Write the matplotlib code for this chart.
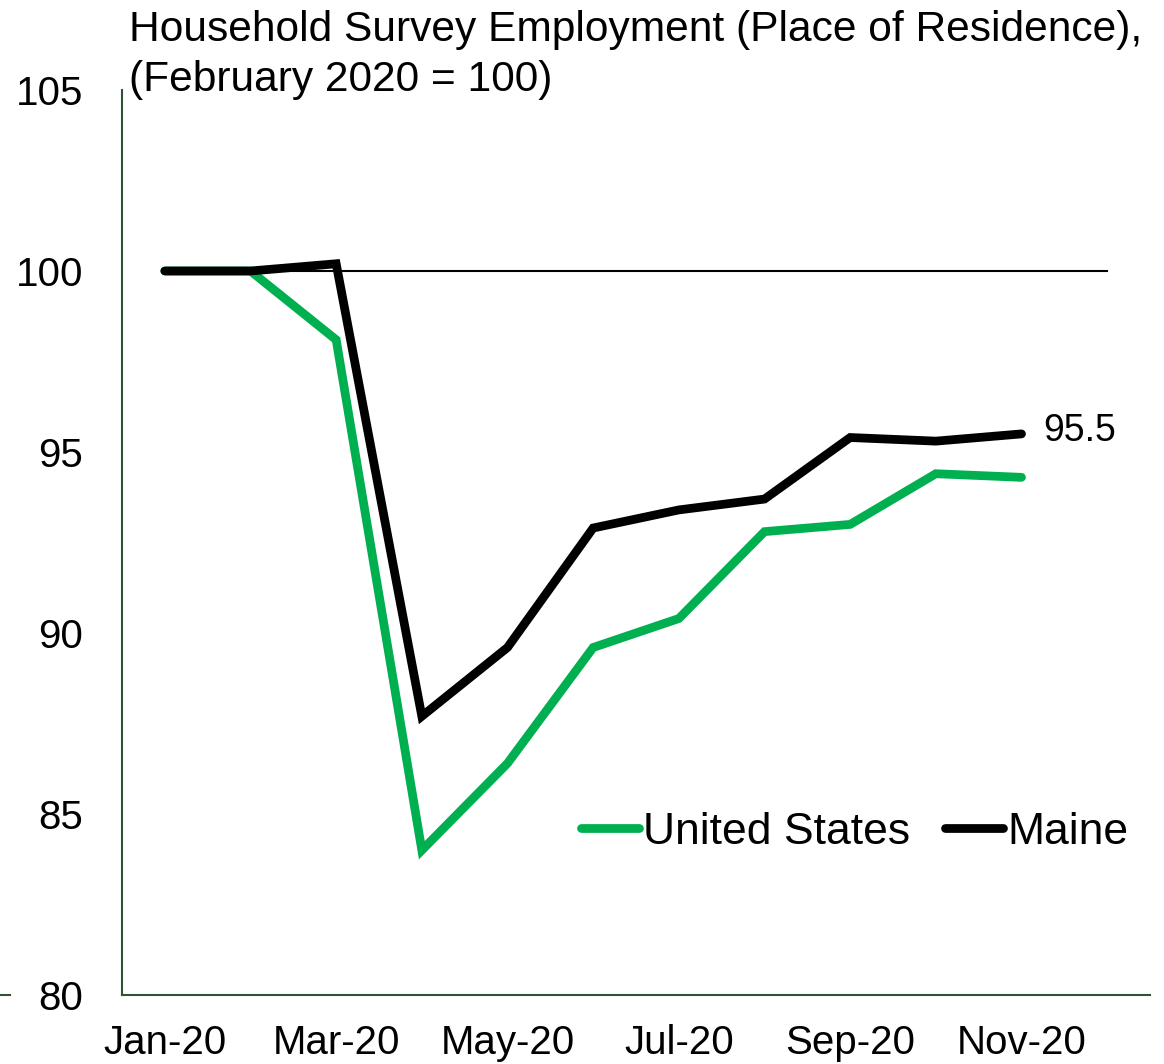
import matplotlib
matplotlib.use("Agg")
import matplotlib.pyplot as plt
from matplotlib.lines import Line2D

plt.rcParams['font.family'] = ['Liberation Sans', 'DejaVu Sans']

months = ["Jan-20", "Feb-20", "Mar-20", "Apr-20", "May-20", "Jun-20",
          "Jul-20", "Aug-20", "Sep-20", "Oct-20", "Nov-20", "Dec-20"]
us = [100.0, 100.0, 98.1, 84.0, 86.4, 89.6, 90.4, 92.8, 93.0, 94.4, 94.3]
maine = [100.0, 100.0, 100.2, 87.7, 89.6, 92.9, 93.4, 93.7, 95.4, 95.3, 95.5]
baseline = [100.0] * 12
yticks = [80, 85, 90, 95, 100, 105]
title = "Household Survey Employment (Place of Residence),\n(February 2020 = 100)"

GREEN = "#00B050"
AXIS = "#2F5233"

fig = plt.figure(figsize=(11.64, 10.64), dpi=100)
ax = fig.add_axes([122/1164, 1-995/1064, (1150-122)/1164, (995-90)/1064])

x = list(range(len(months)))
ax.plot(x, baseline, color="black", lw=1.5, zorder=1)
ax.plot(x[:len(us)], us, color=GREEN, lw=6.3, solid_capstyle="round",
        solid_joinstyle="miter", label="United States", zorder=2)
ax.plot(x[:len(maine)], maine, color="black", lw=6.3, solid_capstyle="round",
        solid_joinstyle="miter", label="Maine", zorder=3)

ax.annotate(f"{maine[-1]:.1f}", (x[len(maine)-1], maine[-1]), xytext=(16, 2),
            textcoords="offset points", fontsize=27, va="center", ha="left")

ax.set_xlim(-0.5, len(months) - 0.5)
ax.set_ylim(80, 105)
ax.set_yticks(yticks)
ax.set_yticklabels([str(t) for t in yticks], fontsize=29)
ax.set_xticks(x[::2])
ax.set_xticklabels(months[::2], fontsize=29)
ax.tick_params(axis="y", length=0, pad=28)
ax.tick_params(axis="x", length=0, pad=21)

for s in ["top", "right"]:
    ax.spines[s].set_visible(False)
for s in ["left", "bottom"]:
    ax.spines[s].set_color(AXIS)
    ax.spines[s].set_linewidth(1.5)

leg = ax.legend(loc="center right", bbox_to_anchor=(1129/1164, 1-832/1064),
                bbox_transform=fig.transFigure, ncol=2, frameon=False,
                fontsize=32, handlelength=1.3, handletextpad=0.11,
                columnspacing=0.78, borderpad=0, borderaxespad=0)

fig.text(129/1164, 1-10/1064, title, fontsize=30.6, va="top", ha="left",
         linespacing=1.32)

fig.add_artist(Line2D([0, 10/1164], [1-995/1064, 1-995/1064],
                      transform=fig.transFigure, color=AXIS, lw=1.5))

fig.savefig("out.png", dpi=100)
